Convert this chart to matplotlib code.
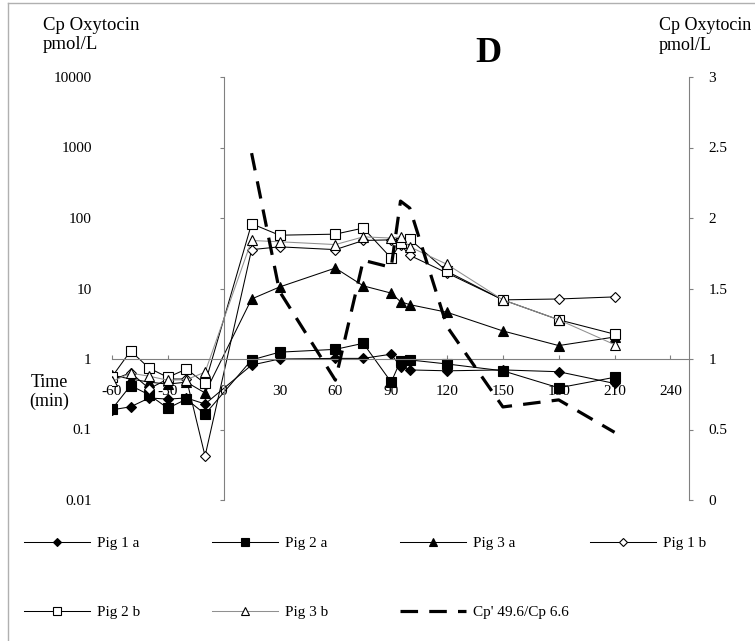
import matplotlib
matplotlib.use('Agg')
import matplotlib.pyplot as plt
from matplotlib.lines import Line2D

plt.rcParams['font.family'] = ['Liberation Serif', 'DejaVu Serif']

# sampling times (min)
t = [-60, -50, -40, -30, -20, -10, 15, 30, 60, 75, 90, 95, 100, 120, 150, 180, 210]

# Cp oxytocin, pmol/L (left, log axis)
pig1a = [0.19, 0.21, 0.28, 0.27, 0.28, 0.23, 0.82, 1.0, 1.02, 1.02, 1.17, 0.78, 0.70, 0.68, 0.70, 0.66, 0.45]
pig2a = [0.195, 0.42, 0.31, 0.20, 0.27, 0.165, 0.97, 1.25, 1.37, 1.67, 0.47, 0.94, 0.97, 0.85, 0.68, 0.39, 0.55]
pig3a = [0.59, 0.52, 0.47, 0.44, 0.47, 0.33, 7.1, 10.5, 19.5, 10.9, 8.6, 6.5, 5.9, 4.6, 2.5, 1.55, 2.05]
pig1b = [0.50, 0.64, 0.38, 0.52, 0.52, 0.042, 35.6, 39, 35.6, 48, 49, 42, 29.5, 16.6, 6.9, 7.1, 7.6]
pig2b = [0.56, 1.3, 0.74, 0.55, 0.72, 0.45, 83, 57, 59, 72, 27, 44, 50, 17.5, 6.9, 3.6, 2.25]
pig3b = [0.48, 0.63, 0.57, 0.50, 0.51, 0.65, 48, 46, 42, 54, 52, 54, 39, 22, 6.9, 3.6, 1.6]

# ratio curve (right axis)
t_ratio = [15, 30, 60, 75, 90, 95, 100, 120, 150, 180, 210]
ratio = [2.46, 1.48, 0.85, 1.70, 1.65, 2.12, 2.07, 1.23, 0.66, 0.71, 0.48]

x_ticks = [-60, -30, 0, 30, 60, 90, 120, 150, 180, 210, 240]
y_ticks = [0.01, 0.1, 1, 10, 100, 1000, 10000]
y_labels = ['0.01', '0.1', '1', '10', '100', '1000', '10000']
y2_ticks = [0, 0.5, 1, 1.5, 2, 2.5, 3]
y2_labels = ['0', '0.5', '1', '1.5', '2', '2.5', '3']

W, H = 755, 641
fig = plt.figure(figsize=(W / 100, H / 100), dpi=100)
ax = fig.add_axes([112 / W, 1 - 500 / H, (689 - 112) / W, (500 - 77) / H])
ax.patch.set_visible(False)

ax.set_yscale('log')
ax.set_xlim(-60, 250)
ax.set_ylim(0.01, 10000)

grey = '#808080'
ax.spines['top'].set_visible(False)
ax.spines['right'].set_visible(False)
ax.spines['left'].set_position(('data', 0))
ax.spines['bottom'].set_position(('data', 1))
for s in ['left', 'bottom']:
    ax.spines[s].set_color(grey)
    ax.spines[s].set_linewidth(0.8)

ax.set_xticks(x_ticks)
ax.set_xticklabels([str(v) for v in x_ticks], fontsize=11)
ax.set_yticks(y_ticks)
ax.set_yticklabels(y_labels, fontsize=11)
ax.minorticks_off()
ax.tick_params(axis='x', direction='in', length=3, color=grey, pad=19)
ax.tick_params(axis='y', direction='out', length=3, color=grey, pad=92)

thin = dict(color='black', linewidth=0.75, markeredgewidth=0.8, markeredgecolor='black')
ax.plot(t, pig1a, marker='D', markersize=5, markerfacecolor='black', label='Pig 1 a', **thin)
ax.plot(t, pig2a, marker='s', markersize=6.5, markerfacecolor='black', label='Pig 2 a', **thin)
ax.plot(t, pig3a, marker='^', markersize=7, markerfacecolor='black', label='Pig 3 a', **thin)
ax.plot(t, pig1b, marker='D', markersize=5, markerfacecolor='white', label='Pig 1 b', **thin)
ax.plot(t, pig2b, marker='s', markersize=6.5, markerfacecolor='white', label='Pig 2 b', **thin)
ax.plot(t, pig3b, marker='^', markersize=7, markerfacecolor='white', markeredgecolor='black',
        markeredgewidth=0.8, color='#909090', linewidth=0.75, label='Pig 3 b')

ax2 = ax.twinx()
ax2.set_ylim(0, 3)
for s in ['top', 'bottom', 'left']:
    ax2.spines[s].set_visible(False)
ax2.spines['right'].set_color(grey)
ax2.spines['right'].set_linewidth(0.8)
ax2.set_yticks(y2_ticks)
ax2.set_yticklabels(y2_labels, fontsize=11)
ax2.tick_params(axis='y', direction='out', length=3, color=grey, pad=11)
ax2.plot(t_ratio, ratio, color='black', linewidth=2.3, linestyle=(0, (5.5, 3.5)),
         label="Cp' 49.6/Cp 6.6")

# titles and labels
fig.text(43 / W, 1 - 17 / H, 'Cp Oxytocin\npmol/L', fontsize=13.5, va='top', ha='left', linespacing=1.15)
fig.text(659 / W, 1 - 17 / H, 'Cp Oxytocin\npmol/L', fontsize=13, va='top', ha='left', linespacing=1.2)
fig.text(488 / W, 1 - 54 / H, 'D', fontsize=26, fontweight='bold', ha='center', va='center')
fig.text(49 / W, 1 - 392 / H, 'Time\n(min)', fontsize=13, ha='center', va='center', linespacing=1.1)

# legend, laid out in the same 4 x 2 grid as the original
handles = ax.get_lines() + ax2.get_lines()
cols = [24, 212, 400, 590]
rows = [543, 612]
for i, h in enumerate(handles):
    x = cols[i % 4] / W
    y = 1 - rows[i // 4] / H
    fig.legend(handles=[h], loc='center left', bbox_to_anchor=(x, y), frameon=False,
               fontsize=11, handlelength=4.3, handletextpad=0.5, borderpad=0,
               borderaxespad=0, numpoints=1, markerscale=0.8)

# light frame around the chart area
fig.add_artist(Line2D([8 / W, 8 / W], [0, 1 - 3 / H], transform=fig.transFigure, color='#b0b0b0', linewidth=1))
fig.add_artist(Line2D([8 / W, 1], [1 - 3 / H, 1 - 3 / H], transform=fig.transFigure, color='#b0b0b0', linewidth=1))

fig.savefig('out.png', dpi=100)
